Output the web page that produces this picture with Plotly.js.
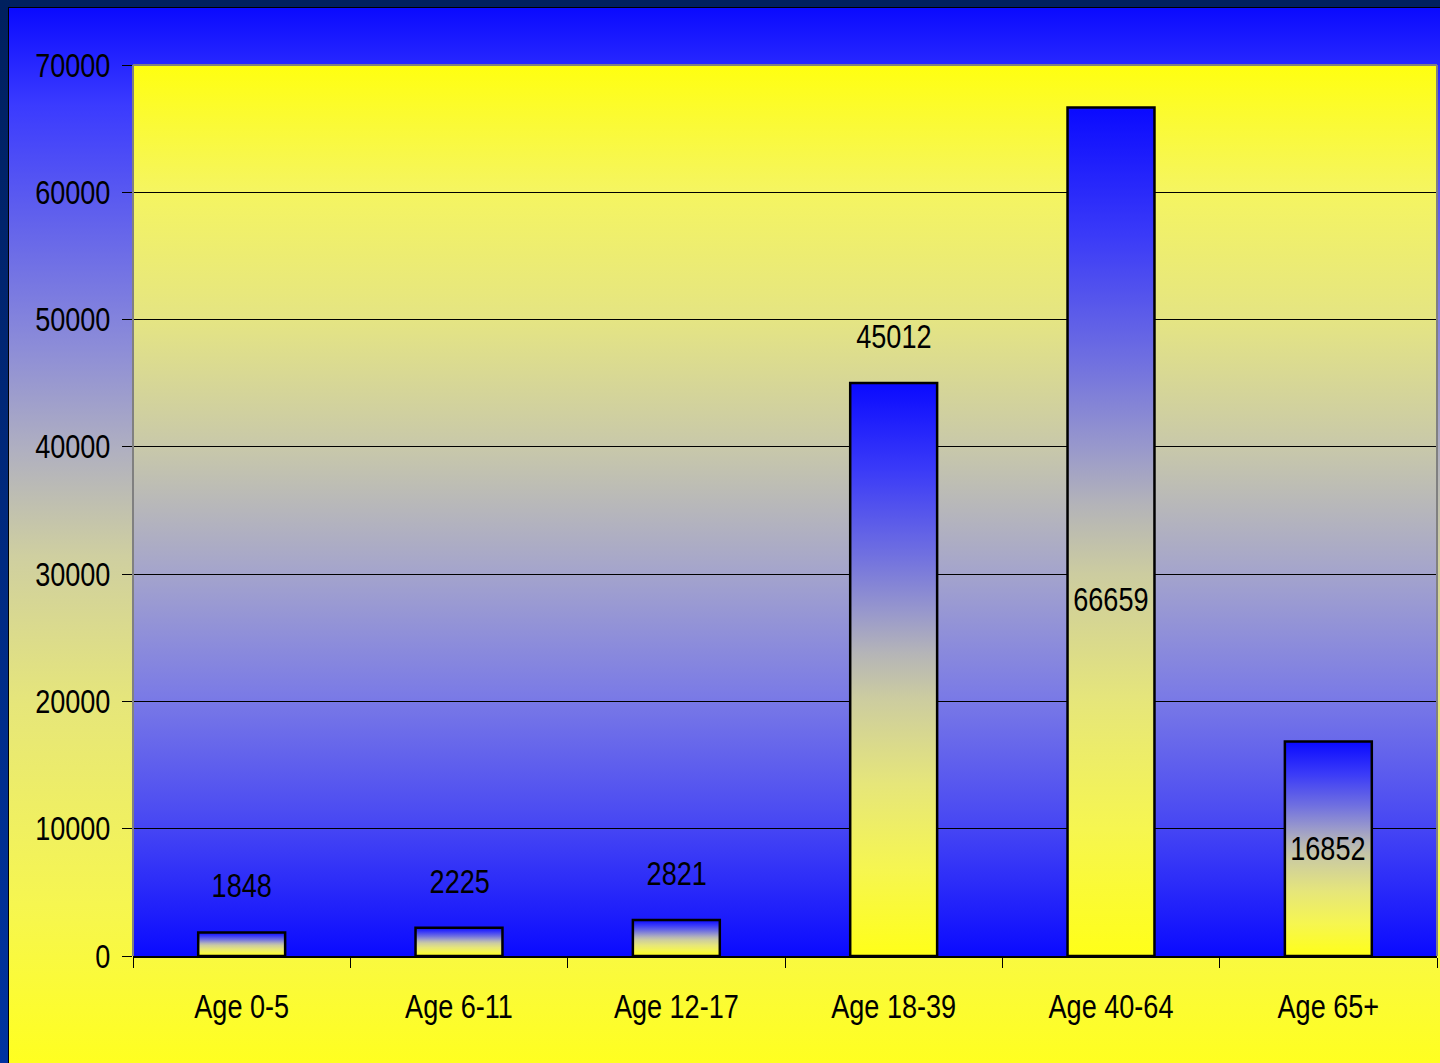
<!DOCTYPE html>
<html>
<head>
<meta charset="utf-8">
<script src="https://cdn.plot.ly/plotly-3.0.1.min.js"></script>
<style>
  html, body { margin: 0; padding: 0; }
  body { width: 1440px; height: 1063px; overflow: hidden; position: relative;
         background: linear-gradient(to bottom, #00205e, #0033a0); }
  #frame { position: absolute; left: 8px; top: 7px; width: 1432px; height: 1056px;
           border-left: 1px solid #000; border-top: 1px solid #000; box-sizing: border-box;
           background: linear-gradient(to bottom, #0a0aff 0%, #3a3aff 9%, #8c8cd8 32%, #b0b0c0 42%, #cfcfa0 52%, #e6e67a 66%, #f6f650 85%, #ffff20 100%); }
  #chart { position: absolute; left: 0; top: 0; width: 1431px; height: 1055px; }
</style>
</head>
<body>
<div id="frame"><div id="chart"></div></div>
<script>
const categories = ["Age 0-5", "Age 6-11", "Age 12-17", "Age 18-39", "Age 40-64", "Age 65+"];
const counts = [1848, 2225, 2821, 45012, 66659, 16852];
const labelInside = [false, false, false, false, true, true];
const yTickValues = [0, 10000, 20000, 30000, 40000, 50000, 60000, 70000];

const FONT = '"Liberation Sans Narrow", "Arial Narrow", "Liberation Sans", Arial, sans-serif';
const NARROW = 0.82;

const annotations = categories.map((c, i) => {
  const inside = labelInside[i];
  return {
    x: c, y: inside ? counts[i] * (i === 4 ? 0.42 : 0.5) : counts[i],
    xref: 'x', yref: 'y',
    text: String(counts[i]),
    showarrow: false,
    yanchor: inside ? 'middle' : 'bottom',
    yshift: inside ? 0 : 26,
    font: { family: FONT, size: 33, color: '#000' }
  };
});

const trace = {
  type: 'bar',
  x: categories,
  y: counts,
  marker: { color: '#8888cc', line: { color: '#000', width: 2.5 } },
  hoverinfo: 'x+y'
};

const layout = {
  width: 1431, height: 1055,
  margin: { l: 124, r: 3, t: 57, b: 107 },
  paper_bgcolor: 'rgba(0,0,0,0)',
  plot_bgcolor: '#c8c8aa',
  bargap: 0.6,
  showlegend: false,
  font: { family: FONT, size: 33, color: '#000' },
  xaxis: {
    type: 'category',
    showline: true, linecolor: '#000', linewidth: 1.5,
    ticks: 'outside', tickson: 'boundaries', ticklen: 10, tickcolor: '#000', tickwidth: 1,
    ticklabelstandoff: 21,
    tickfont: { family: FONT, size: 33, color: '#000' },
    showgrid: false, zeroline: false
  },
  yaxis: {
    range: [0, 70000],
    tickvals: yTickValues,
    tickformat: 'd',
    ticks: 'outside', ticklen: 10, tickcolor: '#000', tickwidth: 1,
    ticklabelstandoff: 5,
    tickfont: { family: FONT, size: 33, color: '#000' },
    showgrid: true, gridcolor: '#000', gridwidth: 1,
    zeroline: false, showline: false
  },
  shapes: [
    { type: 'line', xref: 'paper', yref: 'paper', x0: 0, x1: 0, y0: 0, y1: 1, line: { color: '#808080', width: 2 }, layer: 'above' },
    { type: 'line', xref: 'paper', yref: 'paper', x0: 0, x1: 1, y0: 1, y1: 1, line: { color: '#808080', width: 2 }, layer: 'above' },
    { type: 'line', xref: 'paper', yref: 'paper', x0: 1, x1: 1, y0: 0, y1: 1, line: { color: '#808080', width: 2 }, layer: 'above' }
  ],
  annotations: annotations
};

function addGradients(gd) {
  const svg = gd.querySelector('svg.main-svg');
  if (!svg) return;
  let defs = svg.querySelector('defs');
  if (!defs) { defs = document.createElementNS('http://www.w3.org/2000/svg', 'defs'); svg.insertBefore(defs, svg.firstChild); }
  const mk = (id, stops) => {
    if (defs.querySelector('#' + id)) return;
    const g = document.createElementNS('http://www.w3.org/2000/svg', 'linearGradient');
    g.setAttribute('id', id);
    g.setAttribute('x1', '0'); g.setAttribute('y1', '0'); g.setAttribute('x2', '0'); g.setAttribute('y2', '1');
    stops.forEach(([o, c]) => {
      const s = document.createElementNS('http://www.w3.org/2000/svg', 'stop');
      s.setAttribute('offset', o); s.setAttribute('stop-color', c);
      g.appendChild(s);
    });
    defs.appendChild(g);
  };
  mk('plotGrad', [[0, '#ffff10'], [0.14, '#f5f560'], [0.29, '#e4e484'], [0.43, '#c8c8aa'], [0.57, '#a4a4cc'], [0.71, '#7a7ae6'], [0.86, '#4444f4'], [1, '#0a0aff']]);
  mk('barGrad', [[0, '#0a0aff'], [0.15, '#3a3af8'], [0.3, '#7070e0'], [0.4, '#9898cc'], [0.47, '#b4b4b8'], [0.55, '#cccca0'], [0.7, '#e6e67a'], [0.85, '#f6f650'], [1, '#ffff18']]);
  gd.querySelectorAll('.bglayer rect.bg').forEach(r => { r.style.fill = 'url(#plotGrad)'; });
  gd.querySelectorAll('.barlayer .point path').forEach(p => { p.style.fill = 'url(#barGrad)'; });
  // condense text to mimic a narrow typeface
  gd.querySelectorAll('svg text').forEach(t => {
    if (!t.textContent) return;
    if (t.getAttribute('data-narrow')) return;
    const len = t.getComputedTextLength();
    if (len > 0) {
      t.setAttribute('textLength', (len * NARROW).toFixed(2));
      t.setAttribute('lengthAdjust', 'spacingAndGlyphs');
      t.setAttribute('data-narrow', '1');
    }
  });
}

const gd = document.getElementById('chart');
Plotly.newPlot(gd, [trace], layout, { displayModeBar: false, staticPlot: true }).then(() => {
  addGradients(gd);
  gd.on('plotly_afterplot', () => addGradients(gd));
});
</script>
</body>
</html>
